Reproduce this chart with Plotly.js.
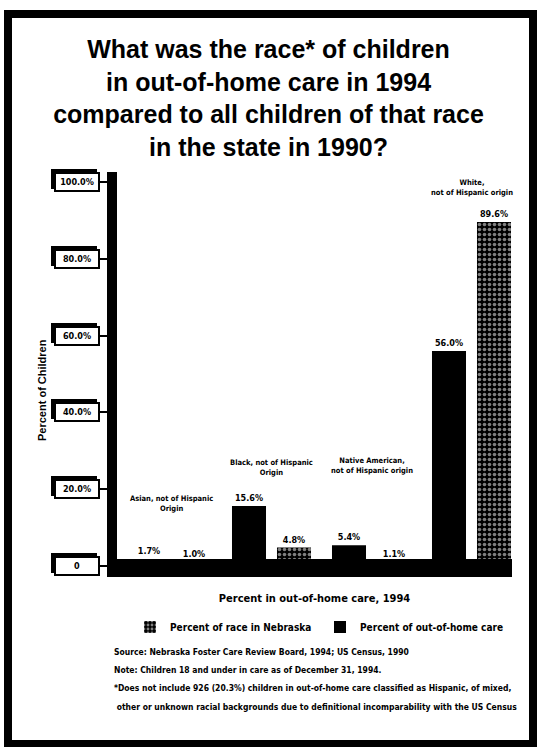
<!DOCTYPE html>
<html>
<head>
<meta charset="utf-8">
<script src="https://cdn.plot.ly/plotly-3.0.1.min.js"></script>
<style>
  html, body { margin: 0; padding: 0; background: #fff; }
  #chart { width: 537px; height: 747px; }
</style>
</head>
<body>
<div id="chart"></div>
<script>
// ---- data ----
const categories = ["Asian", "Black", "Native American", "White"];
const categoryLabels = [
  "Asian, not of Hispanic<br>Origin",
  "Black, not of Hispanic<br>Origin",
  "Native American,<br>not of Hispanic origin",
  "White,<br>not of Hispanic origin"
];
const careValues = [1.7, 15.6, 5.4, 56.0];       // Percent of out-of-home care
const nebraskaValues = [1.0, 4.8, 1.1, 89.6];    // Percent of race in Nebraska
const tickVals = [0, 20, 40, 60, 80, 100];
const tickLabels = ["0", "20.0%", "40.0%", "60.0%", "80.0%", "100.0%"];
const titleLines = [
  "What was the race* of children",
  "in out-of-home care in 1994",
  "compared to all children of that race",
  "in the state in 1990?"
];
const noteLines = [
  "Source: Nebraska Foster Care Review Board, 1994; US Census, 1990",
  "Note: Children 18 and under in care as of December 31, 1994.",
  "*Does not include 926 (20.3%) children in out-of-home care classified as Hispanic, of mixed,",
  " other or unknown racial backgrounds due to definitional incomparability with the US Census"
];

// ---- layout helpers ----
const NARROW = "Liberation Sans Narrow, DejaVu Sans Condensed, Arial Narrow, sans-serif";
const SANS = "Liberation Sans, Arial, Helvetica, sans-serif";
const W = 537, H = 747;
const M = { l: 117, r: 25, t: 182, b: 181 };
const PW = W - M.l - M.r, PH = H - M.t - M.b;
const px = x => (x - M.l) / PW;          // pixel -> paper x
const py = y => (H - M.b - y) / PH;      // pixel -> paper y
const fmt = v => v.toFixed(1) + "%";

const traces = [
  {
    type: "bar", name: "Percent of out-of-home care",
    x: categories, y: careValues,
    text: careValues.map(fmt), textposition: "outside",
    textfont: { family: NARROW, size: 9, color: "#000", weight: "bold" },
    marker: { color: "#000", line: { width: 0 } },
    cliponaxis: false, legendrank: 2
  },
  {
    type: "bar", name: "Percent of race in Nebraska",
    x: categories, y: nebraskaValues,
    text: nebraskaValues.map(fmt), textposition: "outside",
    textfont: { family: NARROW, size: 9, color: "#000", weight: "bold" },
    marker: { color: "#000", line: { width: 0 },
      pattern: { shape: ".", bgcolor: "#000", fgcolor: "#fff", size: 5, solidity: 0.4, fillmode: "overlay" } },
    cliponaxis: false, legendrank: 1
  }
];

// category label positions (layout, in data units)
const catLabelY = [13.3, 22.6, 23.1, 95.6];
const annotations = [];
categories.forEach((c, i) => {
  annotations.push({
    x: c, y: catLabelY[i], xref: "x", yref: "y", yanchor: "bottom",
    text: categoryLabels[i], showarrow: false,
    font: { family: NARROW, size: 7.5, color: "#000", weight: "bold" }
  });
});
// boxed tick labels with shadow
tickVals.forEach((v, i) => {
  const base = {
    x: px(76.5), y: v, xref: "paper", yref: "y", xanchor: "center", yanchor: "middle",
    text: tickLabels[i], showarrow: false, width: 40, height: 14, borderpad: 1, borderwidth: 2,
    bordercolor: "#000", font: { family: NARROW, size: 9, color: "#000", weight: "bold" }
  };
  annotations.push(Object.assign({}, base, { text: "\u00a0", bgcolor: "#000", xshift: -3, yshift: 3 }));
  annotations.push(Object.assign({}, base, { bgcolor: "#fff" }));
});
// y-axis title (rotated)
annotations.push({
  x: px(42), y: py(390), xref: "paper", yref: "paper", xanchor: "center", yanchor: "middle",
  text: "Percent of Children", textangle: -90, showarrow: false,
  font: { family: SANS, size: 11, color: "#000", weight: "bold" }
});
// notes
const noteY = [652, 670, 688, 707];
noteLines.forEach((t, i) => {
  annotations.push({
    x: px(112), y: py(noteY[i]), xref: "paper", yref: "paper", xanchor: "left", yanchor: "middle",
    text: t, showarrow: false, font: { family: NARROW, size: 8.5, color: "#000", weight: "bold" }
  });
});

const shapes = [
  // page frame
  { type: "rect", xref: "paper", yref: "paper", x0: px(8), x1: px(533), y0: py(744), y1: py(14),
    line: { color: "#000", width: 8 }, fillcolor: "rgba(0,0,0,0)", layer: "above" },
  // thick y-axis bar
  { type: "rect", xref: "paper", yref: "paper", x0: px(107), x1: px(117), y0: py(577), y1: py(172),
    line: { width: 0 }, fillcolor: "#000", layer: "above" },
  // thick baseline band
  { type: "rect", xref: "paper", yref: "paper", x0: px(107), x1: px(512), y0: py(577), y1: py(559),
    line: { width: 0 }, fillcolor: "#000", layer: "above" }
];

const layout = {
  width: W, height: H,
  margin: M,
  paper_bgcolor: "#fff", plot_bgcolor: "#fff",
  title: {
    text: titleLines.join("<br>"),
    font: { family: SANS, size: 25, color: "#000", weight: "bold" },
    x: 0.5, xanchor: "center", xref: "container",
    y: 1 - 58 / H, yanchor: "top", yref: "container"
  },
  barmode: "group", bargap: 0.1, bargroupgap: 0.244,
  xaxis: {
    type: "category", range: [-0.545, 3.405],
    showticklabels: false, ticks: "", showgrid: false, zeroline: false, showline: false,
    title: { text: "Percent in out-of-home care, 1994", standoff: 28,
      font: { family: NARROW, size: 11, color: "#000", weight: "bold" } }
  },
  yaxis: {
    range: [0, 100], tickvals: tickVals, ticktext: tickLabels,
    showticklabels: false, ticks: "outside", ticklen: 17, tickwidth: 2, tickcolor: "#000",
    showgrid: false, zeroline: false, showline: false
  },
  showlegend: true,
  legend: {
    orientation: "h", x: px(130), y: py(627), xanchor: "left", yanchor: "middle",
    entrywidth: 145, traceorder: "normal",
    font: { family: NARROW, size: 10, color: "#000", weight: "bold" },
    bgcolor: "rgba(0,0,0,0)"
  },
  annotations: annotations,
  shapes: shapes
};

Plotly.newPlot("chart", traces, layout, { displayModeBar: false, staticPlot: true });
</script>
</body>
</html>
